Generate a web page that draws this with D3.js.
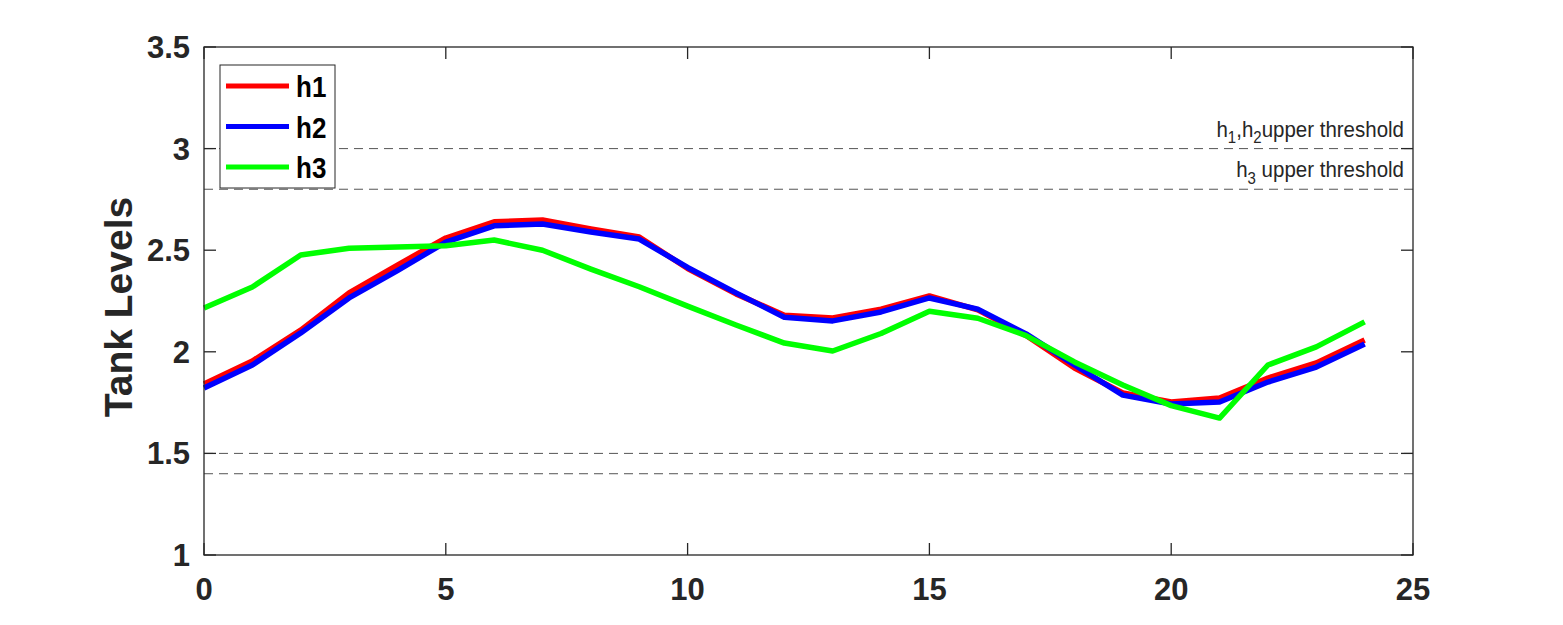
<!DOCTYPE html>
<html><head><meta charset="utf-8">
<script src="https://cdn.jsdelivr.net/npm/d3@7"></script>
<style>body{margin:0;background:#fff}text{font-family:"Liberation Sans",Arial,sans-serif}</style>
</head><body><svg id="c" width="1563" height="625"></svg>
<script>
const hours = d3.range(0, 25);
const h1 = [1.842,1.955,2.107,2.29,2.427,2.56,2.64,2.649,2.605,2.565,2.41,2.285,2.18,2.166,2.21,2.275,2.206,2.08,1.92,1.797,1.753,1.773,1.871,1.945,2.058];
const h2 = [1.822,1.935,2.093,2.265,2.40,2.54,2.62,2.629,2.59,2.555,2.415,2.29,2.17,2.152,2.196,2.265,2.21,2.088,1.935,1.787,1.743,1.753,1.851,1.925,2.038];
const h3 = [2.216,2.319,2.476,2.51,2.516,2.522,2.55,2.50,2.407,2.32,2.225,2.132,2.043,2.004,2.09,2.2,2.165,2.08,1.95,1.837,1.735,1.674,1.935,2.024,2.147];
const thresholds = [3, 2.8, 1.5, 1.4];
const xTicks = [0,5,10,15,20,25];
const yTicks = [1,1.5,2,2.5,3,3.5];
const seriesNames = ["h1","h2","h3"];
const colors = ["#ff0000","#0000ff","#00ff00"];

const svg = d3.select("#c");
const L=204, R=1413, T=47, B=555;
const x = d3.scaleLinear().domain([0,25]).range([L,R]);
const y = d3.scaleLinear().domain([1,3.5]).range([B,T]);

// thresholds
svg.selectAll("line.th").data(thresholds).enter().append("line")
  .attr("x1",L).attr("x2",R).attr("y1",d=>y(d)).attr("y2",d=>y(d))
  .attr("stroke","#555").attr("stroke-width",1).attr("stroke-dasharray","9,6");

// threshold labels
const t1 = svg.append("text").attr("transform",`translate(${R-9},${y(3)-12}) scale(1,1.12)`).attr("text-anchor","end")
  .attr("font-size",20.5).attr("fill","#262626");
t1.append("tspan").text("h");
t1.append("tspan").attr("font-size",15).attr("dy",6).text("1");
t1.append("tspan").attr("dy",-6).text(",h");
t1.append("tspan").attr("font-size",15).attr("dy",6).text("2");
t1.append("tspan").attr("dy",-6).text("upper threshold");
const t2 = svg.append("text").attr("transform",`translate(${R-9},${y(2.8)-12}) scale(1,1.12)`).attr("text-anchor","end")
  .attr("font-size",20.5).attr("fill","#262626");
t2.append("tspan").text("h");
t2.append("tspan").attr("font-size",15).attr("dy",6).text("3");
t2.append("tspan").attr("dy",-6).text(" upper threshold");

// lines
const line = d3.line().x((d,i)=>x(hours[i])).y(d=>y(d));
[h1,h2,h3].forEach((s,k)=>{
  svg.append("path").datum(s).attr("d",line).attr("fill","none")
    .attr("stroke",colors[k]).attr("stroke-width",5.5).attr("stroke-linejoin","round");
});

// axes box
const ax = svg.append("g");
ax.append("rect").attr("x",L).attr("y",T).attr("width",R-L).attr("height",B-T)
  .attr("fill","none").attr("stroke","#262626").attr("stroke-width",1.3);
const tl=12;
xTicks.forEach(v=>{
  ax.append("line").attr("x1",x(v)).attr("x2",x(v)).attr("y1",B).attr("y2",B-tl).attr("stroke","#262626").attr("stroke-width",1.3);
  ax.append("line").attr("x1",x(v)).attr("x2",x(v)).attr("y1",T).attr("y2",T+tl).attr("stroke","#262626").attr("stroke-width",1.3);
  ax.append("text").attr("x",x(v)).attr("y",B+45).attr("text-anchor","middle")
    .attr("font-size",31).attr("font-weight","bold").attr("fill","#262626").text(d3.format("d")(v));
});
yTicks.forEach(v=>{
  ax.append("line").attr("x1",L).attr("x2",L+tl).attr("y1",y(v)).attr("y2",y(v)).attr("stroke","#262626").attr("stroke-width",1.3);
  ax.append("line").attr("x1",R).attr("x2",R-tl).attr("y1",y(v)).attr("y2",y(v)).attr("stroke","#262626").attr("stroke-width",1.3);
  ax.append("text").attr("x",L-14).attr("y",y(v)+11).attr("text-anchor","end")
    .attr("font-size",31).attr("font-weight","bold").attr("fill","#262626").text(v);
});
svg.append("text").attr("transform",`translate(132,307) rotate(-90)`)
  .attr("text-anchor","middle").attr("font-size",39).attr("font-weight","bold").attr("fill","#262626").text("Tank Levels");

// legend
const lg = svg.append("g");
lg.append("rect").attr("x",220).attr("y",65).attr("width",115).attr("height",123)
  .attr("fill","#fff").attr("stroke","#262626").attr("stroke-width",1);
seriesNames.forEach((n,i)=>{
  const yy = 86 + i*40.5;
  lg.append("line").attr("x1",226).attr("x2",289).attr("y1",yy).attr("y2",yy)
    .attr("stroke",colors[i]).attr("stroke-width",5);
  lg.append("text").attr("transform",`translate(296,${yy+11}) scale(1,1.12)`).attr("font-size",26).attr("font-weight","bold").attr("fill","#000").text(n);
});
</script></body></html>
